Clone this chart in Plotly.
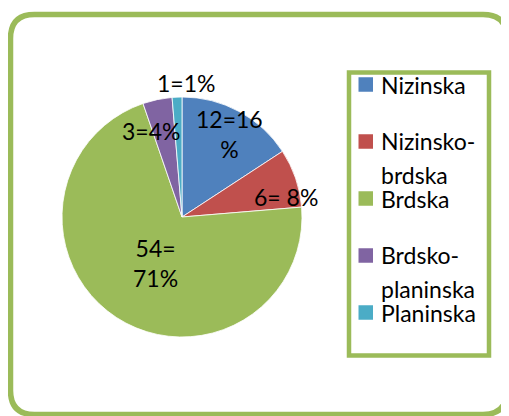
import math
import plotly.graph_objects as go

# ---- data ----
categories = ["Nizinska", "Nizinsko-brdska", "Brdska", "Brdsko-planinska", "Planinska"]
values = [12, 6, 54, 3, 1]
data_labels = ["12=16<br>%", "6= 8%", "54=<br>71%", "3=4%", "1=1%"]
colors = ["#4F81BD", "#C0504D", "#9BBB59", "#8064A2", "#4BACC6"]

# ---- layout constants (page pixels) ----
PAGE_W, PAGE_H = 509, 416
OFF = 8  # default page body margin
W, H = PAGE_W - OFF, PAGE_H - OFF
CX, CY, R = 182, 217, 120
FONT = "Lato"
FS = 23
GREEN = "#9BBB59"

def px(x):
    return (x - OFF) / W

def py(y):
    return 1 - (y - OFF) / H

def rounded_rect(x0, y0, x1, y1, rad):
    p = []
    p.append(f"M {px(x0 + rad)},{py(y0)}")
    p.append(f"L {px(x1 - rad)},{py(y0)}")
    p.append(f"Q {px(x1)},{py(y0)} {px(x1)},{py(y0 + rad)}")
    p.append(f"L {px(x1)},{py(y1 - rad)}")
    p.append(f"Q {px(x1)},{py(y1)} {px(x1 - rad)},{py(y1)}")
    p.append(f"L {px(x0 + rad)},{py(y1)}")
    p.append(f"Q {px(x0)},{py(y1)} {px(x0)},{py(y1 - rad)}")
    p.append(f"L {px(x0)},{py(y0 + rad)}")
    p.append(f"Q {px(x0)},{py(y0)} {px(x0 + rad)},{py(y0)}")
    p.append("Z")
    return " ".join(p)

fig = go.Figure()
fig.add_trace(go.Pie(
    labels=categories,
    values=values,
    sort=False,
    direction="clockwise",
    rotation=0,
    marker=dict(colors=colors, line=dict(color="white", width=0.8)),
    textinfo="none",
    hoverinfo="label+value+percent",
    showlegend=False,
    domain=dict(x=[px(CX - R), px(CX + R)], y=[py(CY + R), py(CY - R)]),
))

shapes = []
annotations = []

# outer rounded frame
shapes.append(dict(type="path", xref="paper", yref="paper",
                   path=rounded_rect(10.5, 14.5, 507, 414.5, 24),
                   line=dict(color=GREEN, width=5.5), fillcolor="rgba(0,0,0,0)", layer="below"))

# data labels placed from the slice mid-angles
label_place = [(0.81, 1, -2), (0.88, 4, -14), (0.47, 4, 1), (0.70, -14, 4), (1.12, 10, 0)]
total = sum(values)
cum = 0
for v, txt, (frac, dx, dy) in zip(values, data_labels, label_place):
    mid = (cum + v / 2) / total * 2 * math.pi
    cum += v
    x = CX + frac * R * math.sin(mid)
    y = CY - frac * R * math.cos(mid)
    annotations.append(dict(x=px(x), y=py(y), xref="paper", yref="paper",
                            text=txt, showarrow=False, xanchor="center", yanchor="middle",
                            xshift=dx, yshift=dy, align="center",
                            font=dict(family=FONT, size=FS, color="black")))

# legend box
shapes.append(dict(type="rect", xref="paper", yref="paper",
                   x0=px(349), x1=px(489), y0=py(72.5), y1=py(355.5),
                   line=dict(color=GREEN, width=4.5), fillcolor="white"))
LEG_TOP = 84.5
LEG_STEP = 57
LINE_STEP = 33.5
SQ = 14.5
for i, (name, col) in enumerate(zip(categories, colors)):
    yc = LEG_TOP + i * LEG_STEP
    shapes.append(dict(type="rect", xref="paper", yref="paper",
                       x0=px(358.5), x1=px(358.5 + SQ), y0=py(yc + SQ / 2), y1=py(yc - SQ / 2),
                       line=dict(width=0), fillcolor=col))
    parts = name.split("-")
    lines = [p + "-" for p in parts[:-1]] + [parts[-1]]
    for k, ln in enumerate(lines):
        annotations.append(dict(x=px(379), y=py(yc + k * LINE_STEP), xref="paper", yref="paper",
                                text=ln, showarrow=False, xanchor="left", yanchor="middle",
                                font=dict(family=FONT, size=FS, color="black")))

fig.update_layout(
    width=W, height=H,
    margin=dict(l=0, r=0, t=0, b=0),
    paper_bgcolor="white", plot_bgcolor="white",
    shapes=shapes, annotations=annotations,
)

fig.write_html("out.html")
